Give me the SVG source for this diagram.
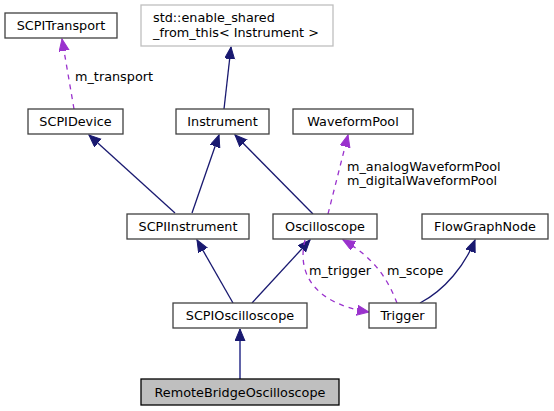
<svg xmlns="http://www.w3.org/2000/svg" width="554" height="411" viewBox="0 0 554 411">
<style>
.n rect{fill:#fff;stroke:#404040;stroke-width:1.3}
.n text{font-family:"DejaVu Sans",sans-serif;font-size:12.8px;fill:#000;text-anchor:middle}
.lbl{font-family:"DejaVu Sans",sans-serif;font-size:12.8px;fill:#000}
.inh{fill:none;stroke:#191970;stroke-width:1.3}
.use{fill:none;stroke:#9a32cd;stroke-width:1.3;stroke-dasharray:5,5}
</style>
<defs>
<marker id="ab" markerUnits="userSpaceOnUse" markerWidth="14" markerHeight="12" refX="12" refY="5" orient="auto"><path d="M0,0 L12,5 L0,10 z" fill="#191970" stroke="#191970" stroke-width="1"/></marker>
<marker id="ap" markerUnits="userSpaceOnUse" markerWidth="14" markerHeight="12" refX="12" refY="5" orient="auto"><path d="M0,0 L12,5 L0,10 z" fill="#9a32cd" stroke="#9a32cd" stroke-width="1"/></marker>
</defs>
<g id="connectors">
<path class="use" d="M74,109 L62,39" marker-end="url(#ap)"/>
<path class="inh" d="M224,109 L231,47" marker-end="url(#ab)"/>
<path class="inh" d="M175,213 L89,135" marker-end="url(#ab)"/>
<path class="inh" d="M192,213 L219,135" marker-end="url(#ab)"/>
<path class="inh" d="M313,214 L235,135" marker-end="url(#ab)"/>
<path class="use" d="M328,214 L348,135" marker-end="url(#ap)"/>
<path class="inh" d="M233,303 L197,240" marker-end="url(#ab)"/>
<path class="inh" d="M252,303 L310,240" marker-end="url(#ab)"/>
<path class="inh" d="M420,303 C445,290 465,265 475,240" marker-end="url(#ab)"/>
<path class="use" d="M305,240 C298,268 310,290 335,302 C345,307 356,310 369,312" marker-end="url(#ap)"/>
<path class="use" d="M397,303 C388,280 375,258 343,240" marker-end="url(#ap)"/>
<path d="M240,379 L240,329" fill="none" stroke="#6164a8" stroke-width="2" marker-end="url(#ab)"/>
<text class="lbl" x="75" y="81">m_transport</text>
<text class="lbl" x="347" y="171">m_analogWaveformPool</text>
<text class="lbl" x="347" y="185">m_digitalWaveformPool</text>
<text class="lbl" x="309" y="275">m_trigger</text>
<text class="lbl" x="387" y="275">m_scope</text>
</g>
<g id="SCPITransport" class="n"><rect x="5" y="13" width="112" height="25"/><text x="61" y="30">SCPITransport</text></g>
<g id="enable_shared" class="n"><rect x="141" y="5" width="192" height="41" style="stroke:#bfbfbf"/><text x="153" y="22" style="text-anchor:start">std::enable_shared</text><text x="153" y="37" style="text-anchor:start">_from_this&lt; Instrument &gt;</text></g>
<g id="SCPIDevice" class="n"><rect x="28" y="109" width="95" height="25"/><text x="75.5" y="126">SCPIDevice</text></g>
<g id="Instrument" class="n"><rect x="176" y="109" width="93" height="25"/><text x="222.5" y="126">Instrument</text></g>
<g id="WaveformPool" class="n"><rect x="293" y="109" width="120" height="25"/><text x="353" y="126">WaveformPool</text></g>
<g id="SCPIInstrument" class="n"><rect x="127" y="214" width="122" height="25"/><text x="188" y="231">SCPIInstrument</text></g>
<g id="Oscilloscope" class="n"><rect x="273" y="214" width="104" height="25"/><text x="325" y="231">Oscilloscope</text></g>
<g id="FlowGraphNode" class="n"><rect x="422" y="214" width="126" height="25"/><text x="485" y="231">FlowGraphNode</text></g>
<g id="SCPIOscilloscope" class="n"><rect x="173" y="303" width="134" height="25"/><text x="240" y="320">SCPIOscilloscope</text></g>
<g id="Trigger" class="n"><rect x="369" y="303" width="67" height="25"/><text x="402.5" y="320">Trigger</text></g>
<g id="RemoteBridgeOscilloscope" class="n"><rect x="141" y="379" width="198" height="26" style="fill:#bfbfbf;stroke:#000"/><text x="240" y="397">RemoteBridgeOscilloscope</text></g>
</svg>
